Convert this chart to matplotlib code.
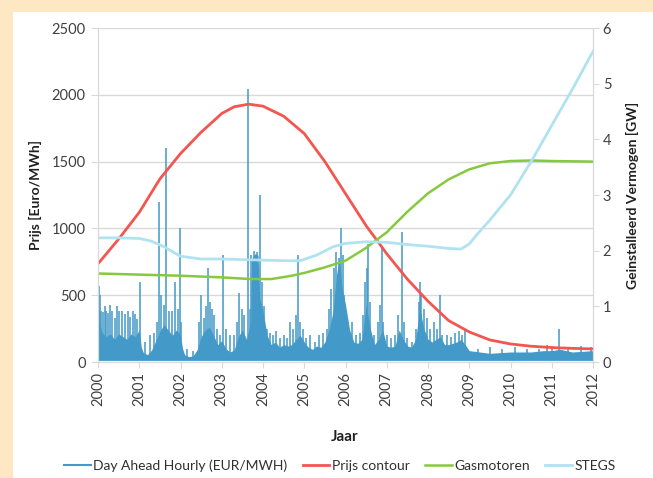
import matplotlib
matplotlib.use("Agg")
import matplotlib.pyplot as plt
from matplotlib.patches import Rectangle

# ---------------- data ----------------
years = list(range(2000, 2013))

# body of the hourly day-ahead price series (upper edge of the dense part)
hourly_body_years = [2000.0, 2000.05, 2000.1, 2000.2, 2000.3, 2000.4, 2000.5, 2000.6, 2000.7, 2000.8, 2000.9,
                     2001.0, 2001.05, 2001.1, 2001.2, 2001.3, 2001.4, 2001.5, 2001.6, 2001.7, 2001.8, 2001.9,
                     2002.0, 2002.05, 2002.1, 2002.2, 2002.3, 2002.4, 2002.5, 2002.6, 2002.7, 2002.8, 2002.9,
                     2003.0, 2003.1, 2003.2, 2003.3, 2003.4, 2003.5, 2003.6, 2003.7, 2003.72, 2003.8, 2003.88,
                     2003.92, 2004.0, 2004.1, 2004.2, 2004.3, 2004.4, 2004.5, 2004.6, 2004.7, 2004.8, 2004.9,
                     2005.0, 2005.1, 2005.2, 2005.3, 2005.4, 2005.5, 2005.6, 2005.7, 2005.78, 2005.85, 2005.92,
                     2006.0, 2006.1, 2006.2, 2006.3, 2006.4, 2006.5, 2006.6, 2006.7, 2006.8, 2006.9,
                     2007.0, 2007.1, 2007.2, 2007.3, 2007.4, 2007.5, 2007.6, 2007.7, 2007.8, 2007.9,
                     2008.0, 2008.1, 2008.2, 2008.3, 2008.4, 2008.5, 2008.6, 2008.7, 2008.8, 2008.9,
                     2009.0, 2009.5, 2010.0, 2010.5, 2010.8, 2011.0, 2011.2, 2011.5, 2012.0]
hourly_body_values = [400, 280, 220, 190, 210, 170, 210, 190, 170, 210, 190,
                      240, 110, 70, 55, 90, 160, 230, 280, 240, 200, 240,
                      200, 100, 55, 40, 45, 90, 190, 240, 260, 200, 130,
                      160, 100, 75, 90, 190, 240, 170, 300, 770, 810, 800,
                      480, 380, 200, 130, 150, 110, 130, 120, 130, 170, 200,
                      150, 110, 95, 120, 110, 150, 240, 380, 650, 780, 550,
                      430, 240, 150, 140, 170, 430, 250, 130, 170, 240,
                      120, 110, 120, 240, 170, 120, 110, 170, 400, 250,
                      170, 150, 170, 190, 130, 130, 140, 150, 170, 130,
                      85, 65, 75, 75, 85, 85, 95, 75, 85]

# individual spikes of the hourly series
spike_years = [2000.02, 2000.05, 2000.08, 2000.12, 2000.17, 2000.2, 2000.25, 2000.3, 2000.35, 2000.4,
               2000.45, 2000.52, 2000.58, 2000.65, 2000.72, 2000.78, 2000.85, 2000.9, 2000.95, 2001.02,
               2001.15, 2001.25, 2001.35, 2001.43, 2001.47, 2001.52, 2001.6, 2001.66, 2001.72, 2001.8,
               2001.86, 2001.93, 2001.98, 2002.02, 2002.15, 2002.3, 2002.45, 2002.5, 2002.56, 2002.62,
               2002.67, 2002.72, 2002.76, 2002.82, 2002.88, 2002.95, 2003.03, 2003.1, 2003.2, 2003.3,
               2003.37, 2003.42, 2003.5, 2003.55, 2003.63, 2003.68, 2003.72, 2003.78, 2003.85, 2003.93,
               2003.97, 2004.02, 2004.1, 2004.18, 2004.25, 2004.32, 2004.4, 2004.5, 2004.58, 2004.65,
               2004.72, 2004.8, 2004.85, 2004.9, 2004.97, 2005.05, 2005.15, 2005.25, 2005.35, 2005.45,
               2005.55, 2005.6, 2005.65, 2005.72, 2005.78, 2005.84, 2005.88, 2005.93, 2005.97, 2006.05,
               2006.15, 2006.25, 2006.35, 2006.42, 2006.47, 2006.52, 2006.55, 2006.6, 2006.7, 2006.78,
               2006.84, 2006.88, 2006.92, 2007.0, 2007.1, 2007.2, 2007.27, 2007.36, 2007.42, 2007.5,
               2007.6, 2007.7, 2007.78, 2007.8, 2007.84, 2007.9, 2007.97, 2008.05, 2008.15, 2008.22,
               2008.29, 2008.35, 2008.45, 2008.55, 2008.65, 2008.75, 2008.82, 2008.9, 2009.2, 2009.5,
               2009.8, 2010.1, 2010.4, 2010.7, 2010.88, 2011.0, 2011.18, 2011.4, 2011.7, 2011.95]
spike_values = [571, 500, 380, 375, 420, 380, 370, 430, 380, 330,
                420, 380, 380, 360, 380, 340, 380, 360, 320, 600,
                150, 200, 220, 300, 1200, 500, 425, 1600, 380, 380,
                600, 400, 1000, 300, 100, 80, 300, 500, 330, 420,
                700, 450, 400, 350, 250, 200, 800, 250, 200, 200,
                300, 515, 400, 350, 2040, 400, 800, 830, 820, 1250,
                600, 420, 250, 220, 200, 230, 180, 200, 180, 300,
                250, 350, 800, 300, 250, 180, 200, 150, 200, 220,
                250, 400, 550, 700, 820, 780, 1000, 800, 500, 300,
                300, 200, 220, 350, 600, 700, 880, 450, 200, 300,
                425, 870, 300, 200, 180, 200, 350, 970, 300, 180,
                150, 250, 450, 600, 520, 400, 330, 250, 300, 250,
                500, 200, 200, 190, 220, 230, 200, 240, 100, 110,
                100, 110, 100, 100, 130, 120, 250, 110, 120, 110]

# Prijs contour (left axis, Euro/MWh)
prijs_years = [2000.0, 2000.5, 2001.0, 2001.5, 2002.0, 2002.5, 2003.0, 2003.3, 2003.65, 2004.0,
               2004.5, 2005.0, 2005.5, 2006.0, 2006.5, 2006.8, 2007.0, 2007.5, 2008.0, 2008.5,
               2009.0, 2009.5, 2010.0, 2010.5, 2011.0, 2011.5, 2012.0]
prijs_values = [735, 920, 1120, 1370, 1560, 1720, 1860, 1910, 1930, 1915,
                1840, 1710, 1500, 1260, 1020, 895, 810, 620, 455, 310,
                225, 165, 135, 118, 108, 102, 98]

# Gasmotoren (right axis, GW)
gas_years = [2000.0, 2001.0, 2002.0, 2003.0, 2003.7, 2004.2, 2004.7, 2005.0, 2005.5, 2006.0,
             2006.5, 2007.0, 2007.5, 2008.0, 2008.5, 2009.0, 2009.5, 2010.0, 2010.5, 2011.0, 2012.0]
gas_values = [1.59, 1.57, 1.55, 1.52, 1.49, 1.49, 1.55, 1.60, 1.70, 1.82,
              2.05, 2.33, 2.70, 3.03, 3.28, 3.46, 3.57, 3.61, 3.62, 3.61, 3.60]

# STEGS (right axis, GW)
stegs_years = [2000.0, 2000.5, 2001.0, 2001.3, 2001.6, 2002.0, 2002.5, 2003.0, 2004.0, 2004.5,
               2004.9, 2005.3, 2005.7, 2006.0, 2006.5, 2007.0, 2007.5, 2008.0, 2008.5, 2008.8,
               2009.0, 2009.2, 2009.5, 2010.0, 2010.5, 2011.0, 2011.5, 2012.0]
stegs_values = [2.23, 2.23, 2.22, 2.17, 2.07, 1.90, 1.85, 1.85, 1.83, 1.82,
                1.82, 1.92, 2.07, 2.13, 2.16, 2.15, 2.11, 2.08, 2.04, 2.03,
                2.12, 2.30, 2.55, 3.00, 3.60, 4.25, 4.90, 5.58]

# ---------------- style ----------------
BLUE = "#4399C8"
RED = "#F4554F"
GREEN = "#86C93E"
CYAN = "#B0E3EF"
GRID = "#D9D9D9"
TXT = "#404040"

plt.rcParams["font.family"] = ["Lato", "DejaVu Sans"]

W, H = 653, 478
fig = plt.figure(figsize=(W / 100, H / 100), dpi=100, facecolor="#FDE8C3")
fig.patches.append(Rectangle((13 / W, 0), 1 - 13 / W, 1 - 12 / H, transform=fig.transFigure,
                             facecolor="white", edgecolor="none", zorder=-10))

ax = fig.add_axes([98 / W, 1 - 362 / H, (593 - 98) / W, (362 - 28) / H])
ax.set_facecolor("none")
ax.set_xlim(2000, 2012)
ax.set_ylim(0, 2500)

ax.yaxis.grid(True, color=GRID, linewidth=1.0)
ax.set_axisbelow(True)

# hourly series
ax.fill_between(hourly_body_years, 12, hourly_body_values, color=BLUE, linewidth=0, zorder=2)
ax.vlines(spike_years, 12, spike_values, color=BLUE, linewidth=1.1, zorder=2)
h_hourly, = ax.plot([], [], color=BLUE, linewidth=1.5, label="Day Ahead Hourly (EUR/MWH)")

h_prijs, = ax.plot(prijs_years, prijs_values, color=RED, linewidth=2.0, zorder=3, label="Prijs contour")

ax2 = ax.twinx()
ax2.set_ylim(0, 6)
h_gas, = ax2.plot(gas_years, gas_values, color=GREEN, linewidth=1.8, label="Gasmotoren")
h_stegs, = ax2.plot(stegs_years, stegs_values, color=CYAN, linewidth=2.0, label="STEGS")

for a in (ax, ax2):
    for s in a.spines.values():
        s.set_color(GRID)
    a.spines["top"].set_visible(False)

ax.set_xticks(years)
ax.set_xticklabels([str(y) for y in years], rotation=90)
ax.set_yticks([0, 500, 1000, 1500, 2000, 2500])
ax2.set_yticks([0, 1, 2, 3, 4, 5, 6])
ax.tick_params(axis="x", colors=TXT, labelsize=10.5, length=4, width=0.8, pad=3, color=GRID)
ax.tick_params(axis="y", colors=TXT, labelsize=10.5, length=5, width=0.8, pad=4, color=GRID)
ax2.tick_params(axis="y", colors=TXT, labelsize=10.5, length=4, width=0.8, pad=3, color=GRID)
for lbl in ax.get_xticklabels() + ax.get_yticklabels() + ax2.get_yticklabels():
    lbl.set_color(TXT)

fig.text(35 / W, 1 - 195 / H, "Prijs [Euro/MWh]", rotation=90, ha="center", va="center",
         fontsize=10, fontweight="bold", color="#202020")
fig.text(632 / W, 1 - 195 / H, "Geinstalleerd Vermogen [GW]", rotation=90, ha="center", va="center",
         fontsize=10, fontweight="bold", color="#202020")
fig.text(345 / W, 1 - 437 / H, "Jaar", ha="center", va="center",
         fontsize=11, fontweight="bold", color="#202020")

fig.legend(handles=[h_hourly, h_prijs, h_gas, h_stegs], loc="center",
           bbox_to_anchor=(340 / W, 1 - 466 / H), ncol=4, frameon=False,
           fontsize=10, handlelength=1.9, handletextpad=0.2, columnspacing=1.1,
           labelcolor="#303030")

fig.savefig("out.png", dpi=100, facecolor=fig.get_facecolor())
